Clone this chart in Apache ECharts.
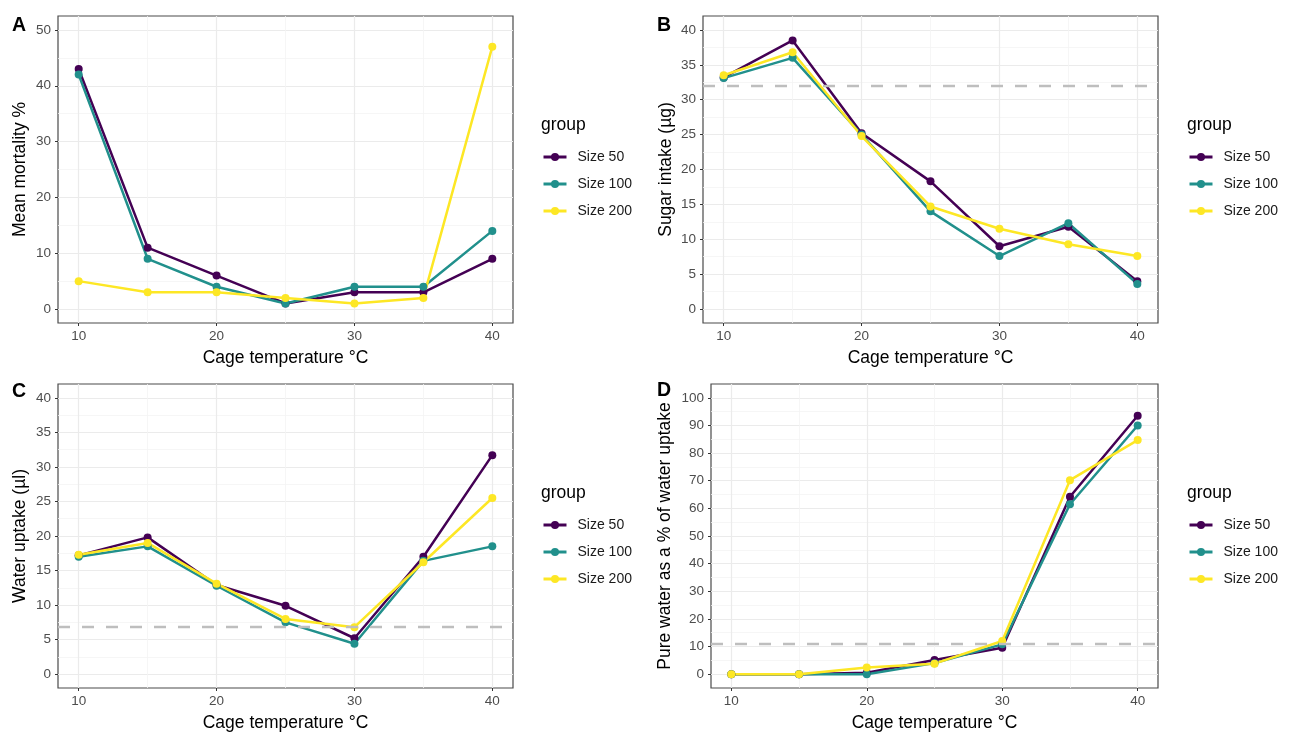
<!DOCTYPE html>
<html>
<head>
<meta charset="utf-8">
<script src="https://cdn.jsdelivr.net/npm/echarts@6/dist/echarts.min.js"></script>
<style>
  html, body { margin: 0; padding: 0; background: #ffffff; }
  #chart { width: 1290px; height: 733px; }
</style>
</head>
<body>
<div id="chart"></div>
<script>
// Cage temperature (°C) on the x axis of every panel
const temps = [10, 15, 20, 25, 30, 35, 40];
const groupNames = ['Size 50', 'Size 100', 'Size 200'];
const groupColors = ['#440154', '#21908C', '#FDE725'];

// A: mean mortality (%)
const mortality50  = [43, 11, 6, 1, 3, 3, 9];
const mortality100 = [42, 9, 4, 1, 4, 4, 14];
const mortality200 = [5, 3, 3, 2, 1, 2, 47];

// B: sugar intake (µg)
const sugar50  = [33.2, 38.5, 25.2, 18.3, 9.0, 11.8, 4.0];
const sugar100 = [33.1, 36.0, 25.0, 14.0, 7.6, 12.3, 3.6];
const sugar200 = [33.5, 36.8, 24.8, 14.7, 11.5, 9.3, 7.6];
const sugarRef = 32;

// C: water uptake (µl)
const water50  = [17.2, 19.8, 12.9, 9.9, 5.2, 17.0, 31.7];
const water100 = [17.0, 18.5, 12.8, 7.5, 4.4, 16.4, 18.5];
const water200 = [17.3, 19.0, 13.1, 8.0, 6.8, 16.2, 25.5];
const waterRef = 6.8;

// D: pure water as a % of water uptake
const pure50  = [0, 0, 0.5, 5.1, 9.6, 64.2, 93.5];
const pure100 = [0, 0, 0, 4.0, 10.8, 61.5, 90.0];
const pure200 = [0, 0, 2.4, 3.8, 12.0, 70.2, 84.7];
const pureRef = 11;

// Tick values (major with labels, minor as light grid only)
const xTicks = [10, 20, 30, 40];
const xMinor = [15, 25, 35];
const mortalityTicks = [0, 10, 20, 30, 40, 50];
const mortalityMinor = [5, 15, 25, 35, 45];
const fortyTicks = [0, 5, 10, 15, 20, 25, 30, 35, 40];
const fortyMinor = [2.5, 7.5, 12.5, 17.5, 22.5, 27.5, 32.5, 37.5];
const pureTicks = [0, 10, 20, 30, 40, 50, 60, 70, 80, 90, 100];
const pureMinor = [5, 15, 25, 35, 45, 55, 65, 75, 85, 95];

const FONT = '"Liberation Sans", Arial, sans-serif';

const panels = [
  { letter: 'A', yName: 'Mean mortality %', series: [mortality50, mortality100, mortality200],
    ref: null, yMin: -2.5, yMax: 52.5, yTicks: mortalityTicks, yMinor: mortalityMinor,
    box: { left: 58, top: 16, width: 455, height: 307 }, yNameGap: 29,
    letterPos: [12, 26], legendPos: [541, 125] },
  { letter: 'B', yName: 'Sugar intake (µg)', series: [sugar50, sugar100, sugar200],
    ref: sugarRef, yMin: -2, yMax: 42, yTicks: fortyTicks, yMinor: fortyMinor,
    box: { left: 703, top: 16, width: 455, height: 307 }, yNameGap: 28,
    letterPos: [657, 26], legendPos: [1187, 125] },
  { letter: 'C', yName: 'Water uptake (µl)', series: [water50, water100, water200],
    ref: waterRef, yMin: -2, yMax: 42, yTicks: fortyTicks, yMinor: fortyMinor,
    box: { left: 58, top: 384, width: 455, height: 306 }, yNameGap: 29,
    letterPos: [12, 392], legendPos: [541, 493] },
  { letter: 'D', yName: 'Pure water as a % of water uptake', series: [pure50, pure100, pure200],
    ref: pureRef, yMin: -5, yMax: 105, yTicks: pureTicks, yMinor: pureMinor,
    box: { left: 711, top: 384, width: 447, height: 306 }, yNameGap: 37,
    letterPos: [657, 391], legendPos: [1187, 493] }
];

const grids = [], xAxes = [], yAxes = [], seriesList = [], legends = [], graphics = [];

const tickLabel = { fontSize: 13.5, color: '#4D4D4D', fontFamily: FONT };
const titleText = { fontSize: 17.5, color: '#000000', fontFamily: FONT };
const majorGrid = { color: '#EBEBEB', width: 1.2 };
const minorGrid = { color: '#F4F4F4', width: 0.8 };

panels.forEach((p, i) => {
  grids.push(Object.assign({
    show: true, backgroundColor: '#ffffff', borderColor: '#4A4A4A', borderWidth: 1.2,
    containLabel: false
  }, p.box));

  // major x axis with labels and ticks
  xAxes.push({
    type: 'value', gridIndex: i, min: 8.5, max: 41.5,
    name: 'Cage temperature °C', nameLocation: 'middle', nameGap: 26,
    nameTextStyle: titleText,
    axisLine: { show: false, onZero: false },
    axisTick: { show: true, inside: false, length: 3, lineStyle: { color: '#333333', width: 1 }, customValues: xTicks },
    axisLabel: Object.assign({ margin: 6, customValues: xTicks }, tickLabel),
    splitLine: { show: true, lineStyle: majorGrid, customValues: xTicks }
  });
  // minor x grid
  xAxes.push({
    type: 'value', gridIndex: i, min: 8.5, max: 41.5,
    axisLine: { show: false, onZero: false },
    axisTick: { show: false, customValues: xMinor },
    axisLabel: { show: false, customValues: xMinor },
    splitLine: { show: true, lineStyle: minorGrid, customValues: xMinor }
  });

  yAxes.push({
    type: 'value', gridIndex: i, min: p.yMin, max: p.yMax,
    name: p.yName, nameLocation: 'middle', nameGap: p.yNameGap, nameRotate: 90,
    nameTextStyle: titleText,
    axisLine: { show: false, onZero: false },
    axisTick: { show: true, inside: false, length: 3, lineStyle: { color: '#333333', width: 1 }, customValues: p.yTicks },
    axisLabel: Object.assign({ margin: 7, customValues: p.yTicks }, tickLabel),
    splitLine: { show: true, lineStyle: majorGrid, customValues: p.yTicks }
  });
  yAxes.push({
    type: 'value', gridIndex: i, min: p.yMin, max: p.yMax,
    axisLine: { show: false, onZero: false },
    axisTick: { show: false, customValues: p.yMinor },
    axisLabel: { show: false, customValues: p.yMinor },
    splitLine: { show: true, lineStyle: minorGrid, customValues: p.yMinor }
  });

  // dashed reference line, drawn beneath the group lines
  if (p.ref !== null) {
    seriesList.push({
      type: 'line', xAxisIndex: 2 * i, yAxisIndex: 2 * i, data: [], silent: true,
      markLine: {
        silent: true, symbol: 'none', label: { show: false },
        lineStyle: { color: '#BEBEBE', width: 2.4, type: [12, 12] },
        data: [{ yAxis: p.ref }]
      }
    });
  }

  p.series.forEach((vals, g) => {
    seriesList.push({
      type: 'line', name: groupNames[g], xAxisIndex: 2 * i, yAxisIndex: 2 * i,
      data: temps.map((t, k) => [t, vals[k]]),
      symbol: 'circle', symbolSize: 8, showSymbol: true,
      itemStyle: { color: groupColors[g] },
      lineStyle: { color: groupColors[g], width: 2.5 },
      z: 3
    });
  });

  legends.push({
    orient: 'vertical', left: p.legendPos[0] + 1, top: p.legendPos[1] + 25,
    padding: 0, itemWidth: 23, itemHeight: 10, itemGap: 13,
    selectedMode: false,
    data: groupNames,
    lineStyle: { width: 3 },
    textStyle: { fontSize: 14, color: '#1A1A1A', fontFamily: FONT, lineHeight: 10, padding: [0, 0, 0, 6] }
  });

  graphics.push({
    type: 'text', x: p.letterPos[0], y: p.letterPos[1],
    style: { text: p.letter, font: 'bold 19.5px ' + FONT, fill: '#000000', align: 'left', verticalAlign: 'middle' }
  });
  graphics.push({
    type: 'text', x: p.legendPos[0], y: p.legendPos[1],
    style: { text: 'group', font: '17.5px ' + FONT, fill: '#000000', align: 'left', verticalAlign: 'middle' }
  });
});

const chart = echarts.init(document.getElementById('chart'), null, { renderer: 'canvas' });
chart.setOption({
  animation: false,
  backgroundColor: '#ffffff',
  textStyle: { fontFamily: FONT },
  grid: grids,
  xAxis: xAxes,
  yAxis: yAxes,
  legend: legends,
  series: seriesList,
  graphic: graphics
});
</script>
</body>
</html>
